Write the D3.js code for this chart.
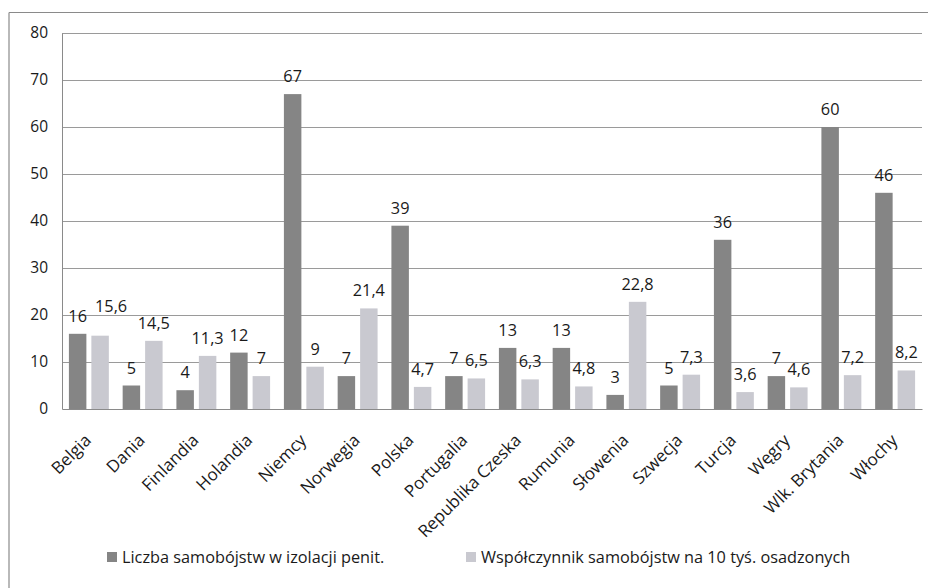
<!DOCTYPE html>
<html>
<head>
<meta charset="utf-8">
<script src="https://cdn.jsdelivr.net/npm/d3@7"></script>
<style>
  html, body { margin: 0; padding: 0; background: #fff; }
  svg { display: block; font-family: "Open Sans", "Noto Sans", sans-serif; }
</style>
</head>
<body>
<svg id="chart" width="928" height="588"></svg>
<script>
// ---- data ----
const categories = ["Belgia", "Dania", "Finlandia", "Holandia", "Niemcy", "Norwegia", "Polska", "Portugalia",
  "Republika Czeska", "Rumunia", "Słowenia", "Szwecja", "Turcja", "Węgry", "Wlk. Brytania", "Włochy"];
const seriesNames = ["Liczba samobójstw w izolacji penit.", "Współczynnik samobójstw na 10 tyś. osadzonych"];
const suicides = [16, 5, 4, 12, 67, 7, 39, 7, 13, 13, 3, 5, 36, 7, 60, 46];
const ratePer10k = [15.6, 14.5, 11.3, 7, 9, 21.4, 4.7, 6.5, 6.3, 4.8, 22.8, 7.3, 3.6, 4.6, 7.2, 8.2];
const yTicks = [0, 10, 20, 30, 40, 50, 60, 70, 80];
const colors = ["#858585", "#c9c9d0"];

// ---- layout ----
const svg = d3.select("#chart");
const plot = { left: 62, right: 922, top: 33, bottom: 409 };
const textColor = "#1a1a1a";

const rows = categories.map((c, i) => ({ cat: c, values: [suicides[i], ratePer10k[i]] }));

const x = d3.scaleBand().domain(categories).range([plot.left, plot.right])
  .paddingInner(0.257).paddingOuter(0.1285);
const xSub = d3.scaleBand().domain([0, 1]).range([0, x.bandwidth()]).paddingInner(0.222);
const y = d3.scaleLinear().domain([0, 80]).range([plot.bottom, plot.top]);

const fmt = v => String(v).replace(".", ",");

// outer frame (partial, as in the scan)
svg.append("line").attr("x1", 9).attr("x2", 928).attr("y1", 12.5).attr("y2", 12.5)
  .attr("stroke", "#8a8a8a").attr("stroke-width", 1.2);
svg.append("line").attr("x1", 9).attr("x2", 9).attr("y1", 12.5).attr("y2", 588)
  .attr("stroke", "#8a8a8a").attr("stroke-width", 1.2);

// gridlines
svg.append("g").selectAll("line").data(yTicks.filter(t => t > 0)).join("line")
  .attr("x1", plot.left).attr("x2", plot.right)
  .attr("y1", d => Math.round(y(d)) + 0.5).attr("y2", d => Math.round(y(d)) + 0.5)
  .attr("stroke", "#9a9a9a").attr("stroke-width", 1);

// y axis
const yAxis = d3.axisLeft(y).tickValues(yTicks).tickSize(0).tickPadding(14);
const gy = svg.append("g").attr("transform", `translate(${plot.left},0)`).call(yAxis);
gy.select(".domain").attr("stroke", "#8a8a8a");
gy.selectAll("text").attr("font-size", 15.5).attr("fill", textColor)
  .attr("font-family", "'Open Sans', sans-serif");

// bars
const groups = svg.append("g").selectAll("g").data(rows).join("g")
  .attr("transform", d => `translate(${x(d.cat)},0)`);
groups.selectAll("rect").data(d => d.values.map((v, k) => ({ v, k }))).join("rect")
  .attr("x", d => xSub(d.k)).attr("width", xSub.bandwidth())
  .attr("y", d => y(d.v)).attr("height", d => y(0) - y(d.v))
  .attr("fill", d => colors[d.k]);

// data labels (with simple collision nudge: an overlapping label moves up and right)
const labelSel = groups.selectAll("text").data(d => d.values.map((v, k) => ({ v, k }))).join("text")
  .attr("x", d => xSub(d.k) + xSub.bandwidth() / 2)
  .attr("y", d => y(d.v) - 12)
  .attr("text-anchor", "middle").attr("font-size", 16.3).attr("fill", textColor)
  .text(d => fmt(d.v));
const placed = [];
labelSel.each(function () {
  let b = this.getBoundingClientRect();
  const hit = placed.some(p => !(b.right < p.left || b.left > p.right || b.bottom < p.top || b.top > p.bottom));
  if (hit) {
    const el = d3.select(this);
    el.attr("x", +el.attr("x") + 11).attr("y", +el.attr("y") - 12);
    b = this.getBoundingClientRect();
  }
  placed.push({ left: b.left + 2, right: b.right - 2, top: b.top + 3, bottom: b.bottom - 3 });
});

// x axis baseline + rotated category labels
const xAxis = d3.axisBottom(x).tickSize(0).tickPadding(0);
const gx = svg.append("g").attr("transform", `translate(0,${plot.bottom})`).call(xAxis);
gx.select(".domain").attr("stroke", "#8a8a8a");
gx.selectAll("text").attr("font-size", 17).attr("fill", textColor)
  .attr("font-family", "'Open Sans', sans-serif")
  .attr("text-anchor", "end")
  .attr("transform", "translate(-5,24) rotate(-45)")
  .attr("dy", "0.7em").attr("y", 0);

// legend
const legendItems = [
  { name: seriesNames[0], color: colors[0], x: 107 },
  { name: seriesNames[1], color: colors[1], x: 466 }
];
const lg = svg.append("g").selectAll("g").data(legendItems).join("g")
  .attr("transform", d => `translate(${d.x},557)`);
lg.append("rect").attr("x", 0).attr("y", -5).attr("width", 10).attr("height", 10).attr("fill", d => d.color);
lg.append("text").attr("x", 15).attr("y", 0).attr("dy", "0.35em")
  .attr("font-size", 16.3).attr("fill", textColor).text(d => d.name);
</script>
</body>
</html>
